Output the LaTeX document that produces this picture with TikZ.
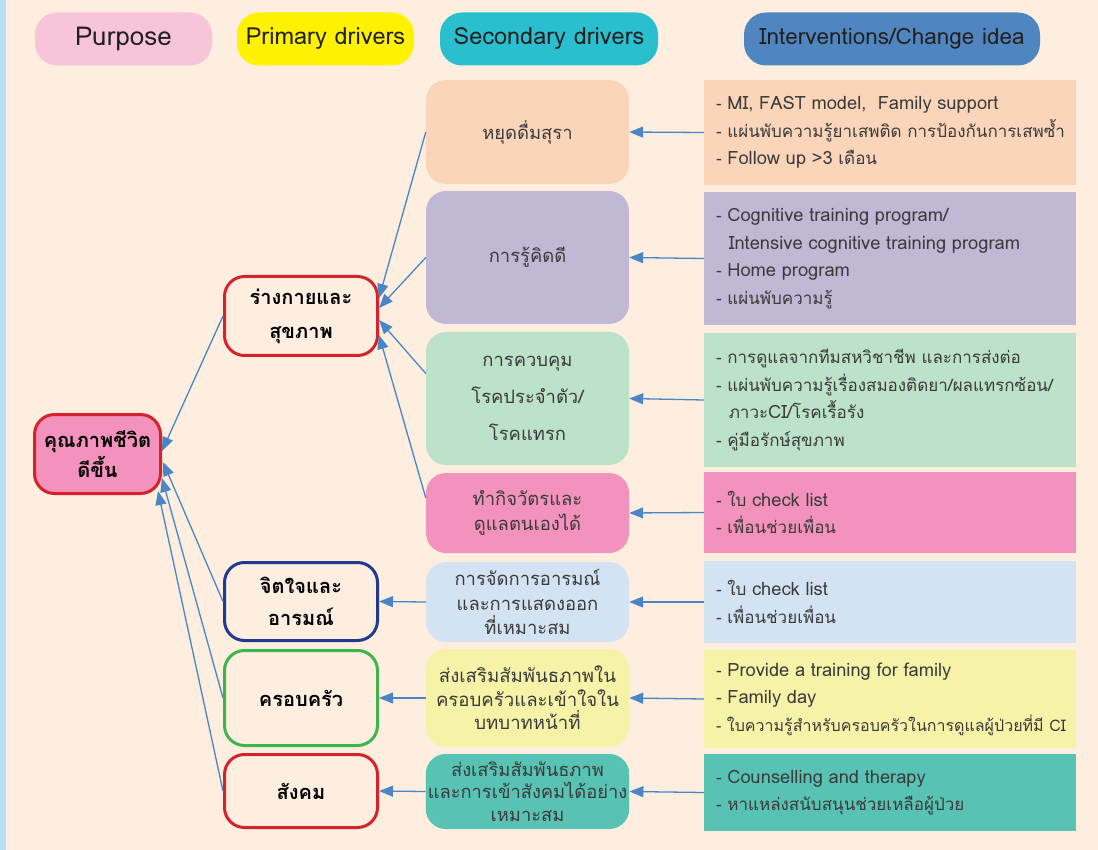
\documentclass[tikz,border=0pt]{standalone}
\usepackage{fontspec}
\setmainfont[Script=Thai]{Loma}
\usetikzlibrary{arrows.meta,calc}

\definecolor{bg}{HTML}{FDEEE0}
\definecolor{strip}{HTML}{B5E1F5}
\definecolor{hdrpur}{HTML}{F7C4DA}
\definecolor{hdrpri}{HTML}{FFF200}
\definecolor{hdrsec}{HTML}{2ABFCE}
\definecolor{hdrint}{HTML}{4F86C0}
\definecolor{hdrtext}{HTML}{231F20}
\definecolor{bodytext}{HTML}{3A3A3A}
\definecolor{peach}{HTML}{FBD5B9}
\definecolor{lav}{HTML}{C1B8D6}
\definecolor{mint}{HTML}{BDE2CA}
\definecolor{pinkc}{HTML}{F292BD}
\definecolor{lblue}{HTML}{D3E3F3}
\definecolor{pyellow}{HTML}{F6F3A8}
\definecolor{tealc}{HTML}{58C2B5}
\definecolor{redc}{HTML}{D5222B}
\definecolor{navy}{HTML}{22398E}
\definecolor{greenc}{HTML}{3DB54A}
\definecolor{arrowc}{HTML}{4A86C6}

% Latin runs in the intervention lists are set a little larger
\newcommand\en[1]{{\fontsize{18.3}{27.5}\selectfont #1}}
% one unbroken list line
\newcommand\li[1]{\mbox{#1}}
% header label, lowered slightly inside its pill
\newcommand\hd[1]{\raisebox{-2.5pt}{#1}}

\begin{document}
\begin{tikzpicture}[x=1pt,y=-1pt,
  hdr/.style={rounded corners=22pt, minimum height=53pt, inner sep=0pt,
    text=hdrtext, font=\fontsize{23.5}{26}\selectfont},
  secbox/.style={rounded corners=20pt, minimum width=203pt, inner xsep=2pt,
    inner ysep=0pt, align=center, text=bodytext},
  intbox/.style={minimum width=372pt, text width=348pt, inner xsep=12pt,
    inner ysep=0pt, align=left, text=bodytext,
    font=\fontsize{17}{27.5}\selectfont},
  pribox/.style={rounded corners=20pt, line width=3pt, fill=bg,
    minimum width=153pt, align=center, text=black,
    font=\bfseries\fontsize{20}{34}\selectfont},
  link/.style={draw=arrowc, line width=1.3pt,
    -{Triangle[length=14pt,width=11pt]}}
]
% page background and left strip
\path[fill=bg] (0,0) rectangle (1098,850);
\path[fill=strip] (0,0) rectangle (6,850);

% column headers
\node[hdr, fill=hdrpur, minimum width=177pt, font=\fontsize{26}{28}\selectfont] (hpur) at (123.5,39) {\hd{Purpose}};
\node[hdr, fill=hdrpri, minimum width=177pt] (hpri) at (325.5,39) {\hd{Primary drivers}};
\node[hdr, fill=hdrsec, minimum width=218pt] (hsec) at (549,39) {\hd{Secondary drivers}};
\node[hdr, fill=hdrint, minimum width=296pt, font=\fontsize{22.5}{26}\selectfont] (hint) at (892,39) {\hd{Interventions/Change idea}};

% interventions
\node[intbox, fill=peach, minimum height=105pt] (i1) at (890,132.5)
  {\li{- \en{MI, FAST model,\ \ Family support}}\\\li{- แผ่นพับความรู้ยาเสพติด การป้องกันการเสพซ้ำ}\\\li{- \en{Follow up >3} เดือน}};
\node[intbox, fill=lav, minimum height=133pt] (i2) at (890,258.5)
  {\li{- \en{Cognitive training program/}}\\\li{\hspace*{0.75em}\en{Intensive cognitive training program}}\\\li{- \en{Home program}}\\\li{- แผ่นพับความรู้}};
\node[intbox, fill=mint, minimum height=134pt] (i3) at (890,400)
  {\li{- การดูแลจากทีมสหวิชาชีพ และการส่งต่อ}\\\li{- แผ่นพับความรู้เรื่องสมองติดยา/ผลแทรกซ้อน/}\\\li{\hspace*{0.75em}ภาวะ\en{CI}/โรคเรื้อรัง}\\\li{- คู่มือรักษ์สุขภาพ}};
\node[intbox, fill=pinkc, minimum height=81pt] (i4) at (890,512.5)
  {\li{- ใบ \en{check list}}\\\li{- เพื่อนช่วยเพื่อน}};
\node[intbox, fill=lblue, minimum height=82pt] (i5) at (890,602)
  {\li{- ใบ \en{check list}}\\\li{- เพื่อนช่วยเพื่อน}};
\node[intbox, fill=pyellow, minimum height=98pt] (i6) at (890,699)
  {\li{- \en{Provide a training for family}}\\\li{- \en{Family day}}\\\li{\fontsize{16}{27.5}\selectfont - ใบความรู้สำหรับครอบครัวในการดูแลผู้ป่วยที่มี CI}};
\node[intbox, fill=tealc, minimum height=77pt] (i7) at (890,792.5)
  {\li{- \en{Counselling and therapy}}\\\li{- หาแหล่งสนับสนุนช่วยเหลือผู้ป่วย}};

% secondary drivers
\node[secbox, fill=peach, minimum height=104pt, font=\fontsize{18.4}{37}\selectfont] (s1) at (527.5,132) {หยุดดื่มสุรา};
\node[secbox, fill=lav, minimum height=133pt, font=\fontsize{18.4}{37}\selectfont] (s2) at (527.5,257.5) {การรู้คิดดี};
\node[secbox, fill=mint, minimum height=133pt, font=\fontsize{18.4}{37}\selectfont] (s3) at (527.5,398.5) {การควบคุม\\โรคประจำตัว/\\โรคแทรก};
\node[secbox, fill=pinkc, minimum height=80pt, font=\fontsize{18.4}{25}\selectfont] (s4) at (527.5,513) {ทำกิจวัตรและ\\ดูแลตนเองได้};
\node[secbox, fill=lblue, minimum height=80pt, font=\fontsize{18.4}{24.5}\selectfont] (s5) at (527.5,602) {การจัดการอารมณ์\\และการแสดงออก\\ที่เหมาะสม};
\node[secbox, fill=pyellow, minimum height=98pt, font=\fontsize{18.6}{23.5}\selectfont] (s6) at (527.5,698) {ส่งเสริมสัมพันธภาพใน\\ครอบครัวและเข้าใจใน\\บทบาทหน้าที่};
\node[secbox, fill=tealc, minimum height=75pt, font=\fontsize{18.3}{22.5}\selectfont] (s7) at (527.5,791.5) {ส่งเสริมสัมพันธภาพ\\และการเข้าสังคมได้อย่าง\\เหมาะสม};

% primary drivers
\node[pribox, draw=redc, minimum height=79pt] (p1) at (301,316) {ร่างกายและ\\สุขภาพ};
\node[pribox, draw=navy, minimum height=78pt, font=\bfseries\fontsize{20}{32}\selectfont] (p2) at (301,601.5) {จิตใจและ\\อารมณ์};
\node[pribox, draw=greenc, minimum height=95pt] (p3) at (301,698) {ครอบครัว};
\node[pribox, draw=redc, minimum height=73pt] (p4) at (301,791) {สังคม};

% purpose
\node[pribox, draw=redc, fill=pinkc, minimum width=126pt, minimum height=79pt,
  font=\bfseries\fontsize{20}{30}\selectfont] (pur) at (97.5,454) {คุณภาพชีวิต\\ดีขึ้น};

% interventions -> secondary drivers
\foreach \k in {1,...,7} \draw[link] (i\k.west) -- (s\k.east);

% secondary -> primary drivers
\draw[link] (s1.west) -- ($(p1.east)+(0,-18)$);
\draw[link] (s2.west) -- ($(p1.east)+(0,-8)$);
\draw[link] ($(s3.west)+(0,-25)$) -- ($(p1.east)+(0,4)$);
\draw[link] ($(s4.west)+(0,-15)$) -- ($(p1.east)+(0,19)$);
\draw[link] (s5.west) -- (p2.east);
\draw[link] (s6.west) -- (p3.east);
\draw[link] (s7.west) -- (p4.east);

% primary drivers -> purpose
\draw[link] (p1.west) -- ($(pur.east)+(0,-3)$);
\draw[link] (p2.west) -- ($(pur.east)+(1,8)$);
\draw[link] (p3.west) -- ($(pur.east)+(0,24)$);
\draw[link] (p4.west) -- ($(pur.south east)+(-4,-4)$);
\end{tikzpicture}
\end{document}
